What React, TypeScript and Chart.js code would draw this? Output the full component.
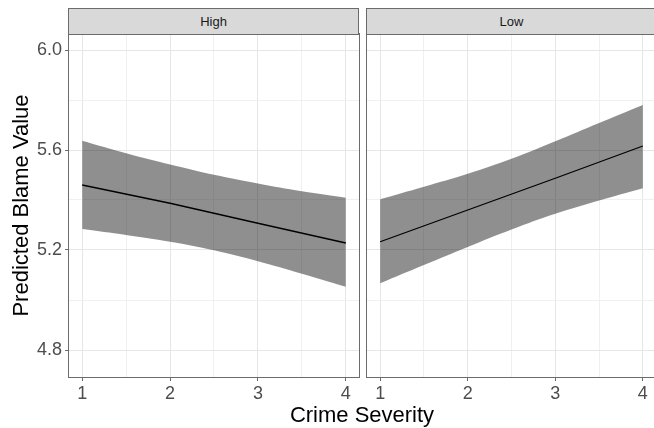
import React, { useEffect, useRef } from "react";
import { Chart, registerables } from "chart.js";
Chart.register(...registerables);

// ---- data ----
const panels = ["High", "Low"];
const bandSeverity = [1, 1.5, 2, 2.5, 3, 3.5, 4];
const fitSeverity = [1, 2, 3, 4];
const highUpper = [5.637, 5.587, 5.542, 5.501, 5.466, 5.435, 5.409];
const highLower = [5.284, 5.26, 5.233, 5.199, 5.155, 5.105, 5.053];
const highFit = [5.46, 5.387, 5.307, 5.228];
const lowUpper = [5.403, 5.453, 5.505, 5.565, 5.635, 5.708, 5.78];
const lowLower = [5.067, 5.14, 5.212, 5.282, 5.345, 5.398, 5.447];
const lowFit = [5.233, 5.36, 5.487, 5.616];
const xMajor = [1, 2, 3, 4];
const xMinor = [1.5, 2.5, 3.5];
const yMajor = [4.8, 5.2, 5.6, 6.0];
const yMinor = [5.0, 5.4, 5.8];
const xLimits = [0.85, 4.15];
const yLimits = [4.692, 6.064];

const FONT = "'Liberation Sans', Arial, Helvetica, sans-serif";

const pts = (xs: number[], ys: number[]) => xs.map((x, i) => ({ x, y: ys[i] }));
const isMajor = (arr: number[], v: number) => arr.some((m) => Math.abs(m - v) < 1e-6);

const borderPlugin = {
  id: "panelBorder",
  afterDraw(chart: any) {
    const { left, right, top, bottom } = chart.chartArea;
    const ctx = chart.ctx;
    ctx.save();
    ctx.strokeStyle = "#6b6b6b";
    ctx.lineWidth = 1;
    ctx.strokeRect(Math.round(left) - 0.5, Math.round(top) - 0.5, Math.round(right - left) + 1, Math.round(bottom - top) + 1);
    ctx.restore();
  },
};

function makeConfig(upper: number[], lower: number[], fit: number[], showY: boolean): any {
  return {
    type: "line",
    data: {
      datasets: [
        {
          data: pts(bandSeverity, upper),
          borderWidth: 0,
          pointRadius: 0,
          backgroundColor: "rgba(0,0,0,0.44)",
          fill: "+1",
          tension: 0.4,
          order: 2,
        },
        {
          data: pts(bandSeverity, lower),
          borderWidth: 0,
          pointRadius: 0,
          fill: false,
          tension: 0.4,
          order: 2,
        },
        {
          data: pts(fitSeverity, fit),
          borderColor: "#000000",
          borderWidth: 1.3,
          pointRadius: 0,
          fill: false,
          order: 1,
        },
      ],
    },
    options: {
      responsive: false,
      animation: false,
      devicePixelRatio: 1,
      layout: { padding: { left: showY ? 0 : 4, right: 3, top: 34, bottom: 0 } },
      plugins: { legend: { display: false }, tooltip: { enabled: false } },
      scales: {
        x: {
          type: "linear",
          min: xLimits[0],
          max: xLimits[1],
          afterBuildTicks: (s: any) => {
            s.ticks = [...xMajor, ...xMinor].sort((a, b) => a - b).map((v) => ({ value: v }));
          },
          afterFit: (s: any) => {
            s.height = 51;
          },
          border: { display: false },
          grid: {
            color: (c: any) => (c.tick && isMajor(xMajor, c.tick.value) ? "#e6e6e6" : "#f0f0f0"),
            lineWidth: 1,
            drawTicks: true,
            tickLength: 4,
            tickColor: (c: any) => (c.tick && isMajor(xMajor, c.tick.value) ? "#6b6b6b" : "rgba(0,0,0,0)"),
          },
          ticks: {
            autoSkip: false,
            maxRotation: 0,
            padding: 2,
            color: "#4d4d4d",
            font: { family: FONT, size: 18 },
            callback: (v: any) => (isMajor(xMajor, Number(v)) ? String(Math.round(Number(v))) : ""),
          },
        },
        y: {
          type: "linear",
          min: yLimits[0],
          max: yLimits[1],
          afterBuildTicks: (s: any) => {
            s.ticks = [...yMajor, ...yMinor].sort((a, b) => a - b).map((v) => ({ value: v }));
          },
          afterFit: (s: any) => {
            s.width = showY ? 69 : 0;
          },
          border: { display: false },
          grid: {
            color: (c: any) => (c.tick && isMajor(yMajor, c.tick.value) ? "#e6e6e6" : "#f0f0f0"),
            lineWidth: 1,
            drawTicks: showY,
            tickLength: 4,
            tickColor: (c: any) => (c.tick && isMajor(yMajor, c.tick.value) ? "#6b6b6b" : "rgba(0,0,0,0)"),
          },
          ticks: {
            display: showY,
            autoSkip: false,
            padding: 3,
            color: "#4d4d4d",
            font: { family: FONT, size: 18 },
            callback: (v: any) => (isMajor(yMajor, Number(v)) ? Number(v).toFixed(1) : ""),
          },
          title: {
            display: showY,
            text: "Predicted Blame Value",
            color: "#000000",
            font: { family: FONT, size: 22 },
            padding: { top: 9, bottom: 0 },
          },
        },
      },
    },
    plugins: [borderPlugin],
  };
}

export default function App() {
  const leftRef = useRef<HTMLCanvasElement>(null);
  const rightRef = useRef<HTMLCanvasElement>(null);

  useEffect(() => {
    const c1 = new Chart(leftRef.current as HTMLCanvasElement, makeConfig(highUpper, highLower, highFit, true));
    const c2 = new Chart(rightRef.current as HTMLCanvasElement, makeConfig(lowUpper, lowLower, lowFit, false));
    return () => {
      c1.destroy();
      c2.destroy();
    };
  }, []);

  const stripStyle = (left: number): React.CSSProperties => ({
    position: "absolute",
    left,
    top: 8,
    width: 291,
    height: 27,
    boxSizing: "border-box",
    background: "#d9d9d9",
    border: "1px solid #6b6b6b",
    color: "#1a1a1a",
    fontFamily: FONT,
    fontSize: 13,
    lineHeight: "25px",
    textAlign: "center",
  });

  return (
    <div
      style={{
        position: "fixed",
        left: 0,
        top: 0,
        width: 654,
        height: 428,
        overflow: "hidden",
        background: "#ffffff",
      }}
    >
      <canvas ref={leftRef} width={362} height={428} style={{ position: "absolute", left: 0, top: 0, width: 362, height: 428 }} />
      <canvas ref={rightRef} width={296} height={428} style={{ position: "absolute", left: 363, top: 0, width: 296, height: 428 }} />
      <div style={stripStyle(68)}>{panels[0]}</div>
      <div style={stripStyle(366)}>{panels[1]}</div>
      <div
        style={{
          position: "absolute",
          left: 262,
          width: 200,
          top: 404,
          textAlign: "center",
          fontFamily: FONT,
          fontSize: 22,
          lineHeight: "22px",
          color: "#000000",
        }}
      >
        Crime Severity
      </div>
    </div>
  );
}
